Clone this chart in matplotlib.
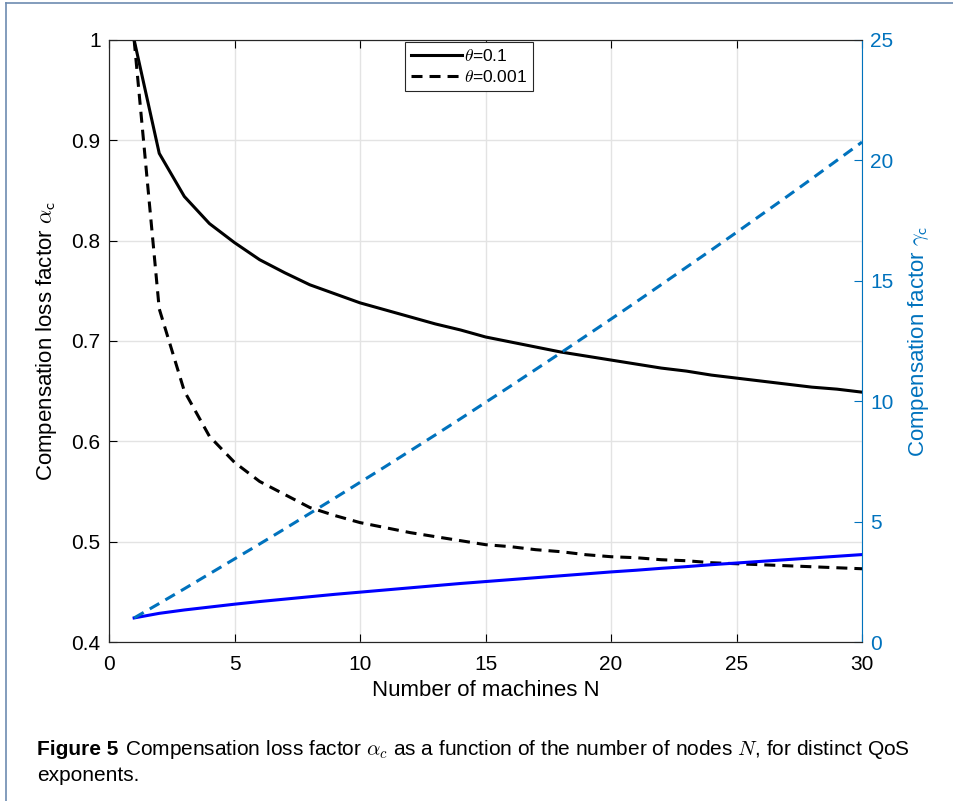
import matplotlib
matplotlib.use("Agg")
import matplotlib.pyplot as plt
from matplotlib.lines import Line2D

plt.rcParams["font.family"] = ["Liberation Sans", "DejaVu Sans"]
plt.rcParams["mathtext.fontset"] = "cm"

# number of machines
n_machines = list(range(1, 31))

# compensation loss factor alpha_c (left axis)
alpha_theta_01 = [1.000, 0.887, 0.844, 0.817, 0.798, 0.781, 0.768, 0.756, 0.747, 0.738,
                  0.731, 0.724, 0.717, 0.711, 0.704, 0.699, 0.694, 0.689, 0.685, 0.681,
                  0.677, 0.673, 0.670, 0.666, 0.663, 0.660, 0.657, 0.654, 0.652, 0.649]
alpha_theta_0001 = [1.000, 0.732, 0.650, 0.605, 0.579, 0.560, 0.547, 0.534, 0.526, 0.519,
                    0.514, 0.509, 0.505, 0.501, 0.497, 0.495, 0.492, 0.490, 0.487, 0.485,
                    0.484, 0.482, 0.481, 0.479, 0.478, 0.477, 0.476, 0.475, 0.474, 0.473]

# compensation factor gamma_c (right axis)
gamma_theta_01 = [1.00, 1.19, 1.33, 1.45, 1.57, 1.68, 1.78, 1.88, 1.98, 2.07,
                  2.16, 2.25, 2.34, 2.43, 2.51, 2.59, 2.67, 2.75, 2.83, 2.91,
                  2.98, 3.06, 3.13, 3.21, 3.28, 3.35, 3.42, 3.49, 3.56, 3.63]
gamma_theta_0001 = [1.00, 1.60, 2.21, 2.83, 3.45, 4.07, 4.70, 5.34, 5.98, 6.63,
                    7.28, 7.94, 8.60, 9.27, 9.95, 10.63, 11.32, 12.01, 12.71, 13.41,
                    14.12, 14.84, 15.56, 16.28, 17.01, 17.75, 18.49, 19.24, 20.00, 20.76]

legend_labels = [r"$\theta$=0.1", r"$\theta$=0.001"]
x_ticks = [0, 5, 10, 15, 20, 25, 30]
left_ticks = [0.4, 0.5, 0.6, 0.7, 0.8, 0.9, 1.0]
right_ticks = [0, 5, 10, 15, 20, 25]

mblue = "#0072BD"
dash = (3.6, 2.3)

fig = plt.figure(figsize=(9.54, 8.01), dpi=100)
ax = fig.add_axes([0.1143, 0.1985, 0.7893, 0.7516])
ax2 = ax.twinx()

l1, = ax.plot(n_machines, alpha_theta_01, color="black", lw=2.2)
l2, = ax.plot(n_machines, alpha_theta_0001, color="black", lw=2.2, ls="--", dashes=dash)
ax2.plot(n_machines, gamma_theta_01, color="#0000FF", lw=2.2)
ax2.plot(n_machines, gamma_theta_0001, color=mblue, lw=2.2, ls="--", dashes=dash)

ax.set_xlim(0, 30)
ax.set_ylim(0.4, 1.0)
ax2.set_ylim(0, 25)
ax.set_xticks(x_ticks)
ax.set_yticks(left_ticks)
ax.set_yticklabels(["0.4", "0.5", "0.6", "0.7", "0.8", "0.9", "1"])
ax2.set_yticks(right_ticks)

ax.grid(True, color="#e3e3e3", lw=1.0)
ax.set_axisbelow(True)
ax.tick_params(axis="both", direction="in", length=6, labelsize=15, width=0.8,
               top=True, pad=6)
ax.tick_params(axis="x", pad=9)
ax.tick_params(axis="y", right=False)
ax2.tick_params(axis="y", direction="in", length=6, labelsize=15, colors=mblue,
                width=0.8, pad=6)

for s in ["left", "bottom", "top"]:
    ax.spines[s].set_color("#262626")
    ax2.spines[s].set_color("#262626")
ax2.spines["right"].set_color(mblue)
ax.spines["right"].set_visible(False)

ax.set_xlabel("Number of machines N", fontsize=16, labelpad=5)
ax.set_ylabel(r"Compensation loss factor $\alpha_\mathsf{c}$", fontsize=16, labelpad=9)
ax2.set_ylabel(r"Compensation factor $\gamma_\mathsf{c}$", fontsize=16, color=mblue,
               labelpad=9)

leg = ax2.legend([l1, l2], legend_labels, loc="upper center",
                 bbox_to_anchor=(0.478, 0.997), borderaxespad=0, fontsize=12.5,
                 fancybox=False, framealpha=1, edgecolor="#262626",
                 handlelength=2.9, handletextpad=0.1, labelspacing=0.3,
                 borderpad=0.35)
leg.get_frame().set_linewidth(0.8)

# page frame
fig.add_artist(Line2D([0.006, 0.006], [0.0, 0.996], color="#6d8bb0", lw=1.2))
fig.add_artist(Line2D([0.006, 1.0], [0.996, 0.996], color="#6d8bb0", lw=1.2))

cap_size = 15
t_bold = fig.text(0.039, 0.058, "Figure 5", fontsize=cap_size, fontweight="bold")
fig.canvas.draw()
bb = t_bold.get_window_extent().transformed(fig.transFigure.inverted())
fig.text(bb.x1 + 0.007, 0.058,
         r"Compensation loss factor $\alpha_c$ as a function of the number of nodes $N$, for distinct QoS",
         fontsize=cap_size)
fig.text(0.039, 0.025, "exponents.", fontsize=cap_size)

fig.savefig("out.png", dpi=100)
